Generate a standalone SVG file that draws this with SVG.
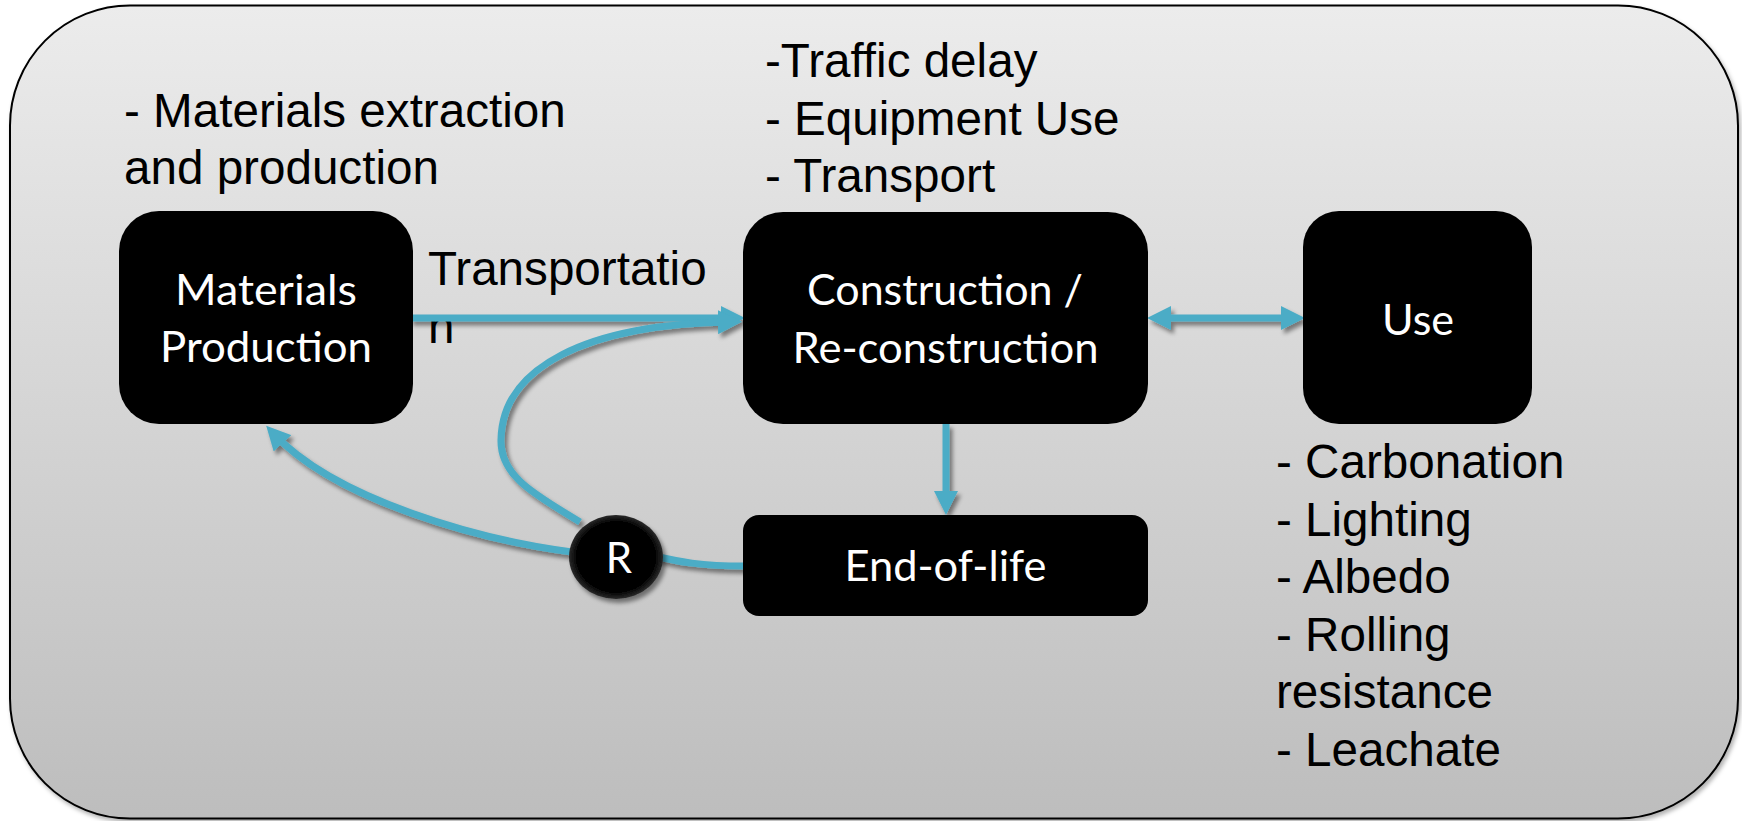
<svg xmlns="http://www.w3.org/2000/svg" width="1742" height="821" viewBox="0 0 1742 821">
<style>
.lbl{font-family:"Liberation Sans",Arial,sans-serif;font-size:47.6px;fill:#000}
.nt{font-family:Lato,"Open Sans",sans-serif;font-size:42px;fill:#fff;text-anchor:middle}
.box{fill:#000}
.con{fill:none;stroke:#4BACC6;stroke-width:7}
</style>
<defs>
<linearGradient id="bg" x1="0" y1="0" x2="0" y2="1">
<stop offset="0" stop-color="#ECECEC"/>
<stop offset="1" stop-color="#BDBDBD"/>
</linearGradient>
<radialGradient id="rg" cx="0.5" cy="0.5" r="0.5">
<stop offset="0" stop-color="#000"/>
<stop offset="0.85" stop-color="#050505"/>
<stop offset="1" stop-color="#2a2a2a"/>
</radialGradient>
<filter id="sh" x="-20%" y="-20%" width="140%" height="140%">
<feDropShadow dx="3" dy="4" stdDeviation="2" flood-color="#000" flood-opacity="0.45"/>
</filter>
<filter id="sh2" x="-5%" y="-5%" width="110%" height="110%">
<feDropShadow dx="2" dy="3" stdDeviation="2" flood-color="#000" flood-opacity="0.3"/>
</filter>
<marker id="ah" markerUnits="userSpaceOnUse" markerWidth="24" markerHeight="24" refX="14" refY="12" orient="auto-start-reverse" viewBox="0 0 24 24">
<path d="M0,0 L24,12 L0,24 z" fill="#4BACC6"/>
</marker>
</defs>

<g id="frame">
<rect x="10" y="5.5" width="1728" height="813" rx="120" ry="120" fill="url(#bg)" stroke="#000" stroke-width="2" filter="url(#sh2)"/>
</g>

<g id="annotations">
<text class="lbl" x="124" y="127">- Materials extraction</text>
<text class="lbl" x="124" y="184">and production</text>
<text class="lbl" x="765" y="77">-Traffic delay</text>
<text class="lbl" x="765" y="135">- Equipment Use</text>
<text class="lbl" x="765" y="192">- Transport</text>
<text class="lbl" x="1276" y="478">- Carbonation</text>
<text class="lbl" x="1276" y="535.5">- Lighting</text>
<text class="lbl" x="1276" y="593">- Albedo</text>
<text class="lbl" x="1276" y="650.5">- Rolling</text>
<text class="lbl" x="1276" y="708">resistance</text>
<text class="lbl" x="1276" y="766">- Leachate</text>
<text class="lbl" x="428" y="285">Transportatio</text>
<text class="lbl" x="428" y="343">n</text>
</g>

<g id="connectors" filter="url(#sh)">
<path class="con" d="M410 318 L735 318" marker-end="url(#ah)"/>
<path class="con" d="M946 424 L946 505" marker-end="url(#ah)"/>
<path class="con" d="M1157 318 L1295 318" marker-start="url(#ah)" marker-end="url(#ah)"/>
<path class="con" d="M580 522 C540 497 500 478 501 440 C502 368 585 324 732 322" marker-end="url(#ah)"/>
<path class="con" d="M572 552 C480 540 335 500 273 433" marker-end="url(#ah)"/>
<path class="con" d="M650 555 C680 562 700 566 745 566"/>
</g>

<g id="node-materials">
<rect class="box" x="119" y="211" width="294" height="213" rx="40" ry="40"/>
<text class="nt" x="266" y="305" textLength="182" lengthAdjust="spacingAndGlyphs">Materials</text>
<text class="nt" x="266" y="362" textLength="212" lengthAdjust="spacingAndGlyphs">Production</text>
</g>

<g id="node-construction">
<rect class="box" x="743" y="212" width="405" height="212" rx="40" ry="40"/>
<text class="nt" x="945" y="305" textLength="276" lengthAdjust="spacingAndGlyphs">Construction /</text>
<text class="nt" x="945.5" y="363" textLength="306" lengthAdjust="spacingAndGlyphs">Re-construction</text>
</g>

<g id="node-use">
<rect class="box" x="1303" y="211" width="229" height="213" rx="36" ry="36"/>
<text class="nt" x="1418" y="335" textLength="72" lengthAdjust="spacingAndGlyphs">Use</text>
</g>

<g id="node-eol">
<rect class="box" x="743" y="515" width="405" height="101" rx="16" ry="16"/>
<text class="nt" x="945.5" y="581" textLength="202" lengthAdjust="spacingAndGlyphs">End-of-life</text>
</g>

<g id="node-r">
<ellipse cx="616" cy="557" rx="47" ry="42" fill="url(#rg)" filter="url(#sh)"/>
<text class="nt" x="619" y="573">R</text>
</g>
</svg>
